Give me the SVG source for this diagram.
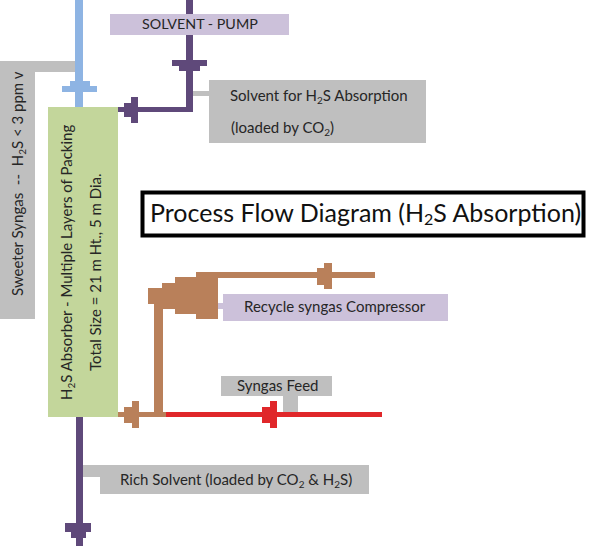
<svg xmlns="http://www.w3.org/2000/svg" width="591" height="547" viewBox="0 0 591 547">
<style>
text{font-family:Lato,"Open Sans","Liberation Sans",sans-serif;fill:#262626;font-size:15px}
.g{fill:#bfbfbf}.l{fill:#ccc1da}.p{fill:#5f497a}.b{fill:#8eb4e3}.c{fill:#b9805a}.r{fill:#e0272a}
tspan.s{font-size:10px}
</style>
<rect width="591" height="547" fill="#fff"/>
<g id="connectors">
<path class="g" d="M0 61H76V72H35V319H0Z"/>
<rect class="g" x="193" y="91" width="16" height="5"/>
<rect class="l" x="218" y="303" width="5" height="6"/>
<rect class="g" x="283" y="396" width="15" height="16"/>
<rect class="g" x="83" y="465" width="17" height="12"/>
<path class="b" d="M75 0H83V81H90V86H97V92H83V107H75V92H62V86H70V81H75Z"/>
<path class="p" d="M186 0H193V60H207V66H200V71H193V112H138V123H131V117H124V112H117V107H124V103H131V97H138V107H186V71H179V66H172V60H186Z"/>
<path class="p" d="M76 417H83V523H91V532H86V538H83V546H76V538H71V532H65V523H76Z"/>
<path class="c" d="M148 288H162V283H175V277H196V272H317V268H324V263H332V272H375V278H332V289H324V285H317V278H218V319H196V314H175V309H163V412H166V417H139V428H132V423H124V417H116V412H124V407H132V401H139V412H154V304H148Z"/>
<path class="r" d="M166 412H262V407H270V401H277V412H382V417H277V428H270V423H262V417H166Z"/>
</g>
<g id="sweeter-syngas">
<text transform="translate(23 296) rotate(-90)" xml:space="preserve">Sweeter Syngas  --  H<tspan class="s" dy="3">2</tspan><tspan dy="-3">S &lt; 3 ppm v</tspan></text>
</g>
<g id="absorber">
<rect x="48" y="107" width="70" height="310" fill="#c3d69b"/>
<text transform="translate(72 400) rotate(-90)">H<tspan class="s" dy="3">2</tspan><tspan dy="-3">S Absorber - Multiple Layers of Packing</tspan></text>
<text transform="translate(101 371) rotate(-90)">Total Size = 21 m Ht., 5 m Dia.</text>
</g>
<g id="solvent-pump">
<rect class="l" x="110" y="14" width="179" height="21"/>
<text x="142" y="29" style="font-size:14.300px">SOLVENT - PUMP</text>
</g>
<g id="solvent-absorption">
<rect class="g" x="209" y="80" width="217" height="63"/>
<text x="230" y="101">Solvent for H<tspan class="s" dy="3">2</tspan><tspan dy="-3">S Absorption</tspan></text>
<text x="231" y="133">(loaded by CO<tspan class="s" dy="3">2</tspan><tspan dy="-3">)</tspan></text>
</g>
<g id="title">
<rect x="142.500" y="192.500" width="441" height="43" fill="#fff" stroke="#000" stroke-width="4"/>
<text x="150" y="222" style="font-size:25px;fill:#111">Process Flow Diagram (H<tspan style="font-size:16px" dy="3">2</tspan><tspan dy="-3">S Absorption)</tspan></text>
</g>
<g id="recycle-compressor">
<rect class="l" x="223" y="294" width="225" height="27"/>
<text x="244" y="312">Recycle syngas Compressor</text>
</g>
<g id="syngas-feed">
<rect class="g" x="221" y="376" width="111" height="20"/>
<text x="237" y="391">Syngas Feed</text>
</g>
<g id="rich-solvent">
<rect class="g" x="100" y="465" width="269" height="29"/>
<text x="120" y="485">Rich Solvent (loaded by CO<tspan class="s" dy="3">2</tspan><tspan dy="-3"> &amp; H</tspan><tspan class="s" dy="3">2</tspan><tspan dy="-3">S)</tspan></text>
</g>
</svg>
